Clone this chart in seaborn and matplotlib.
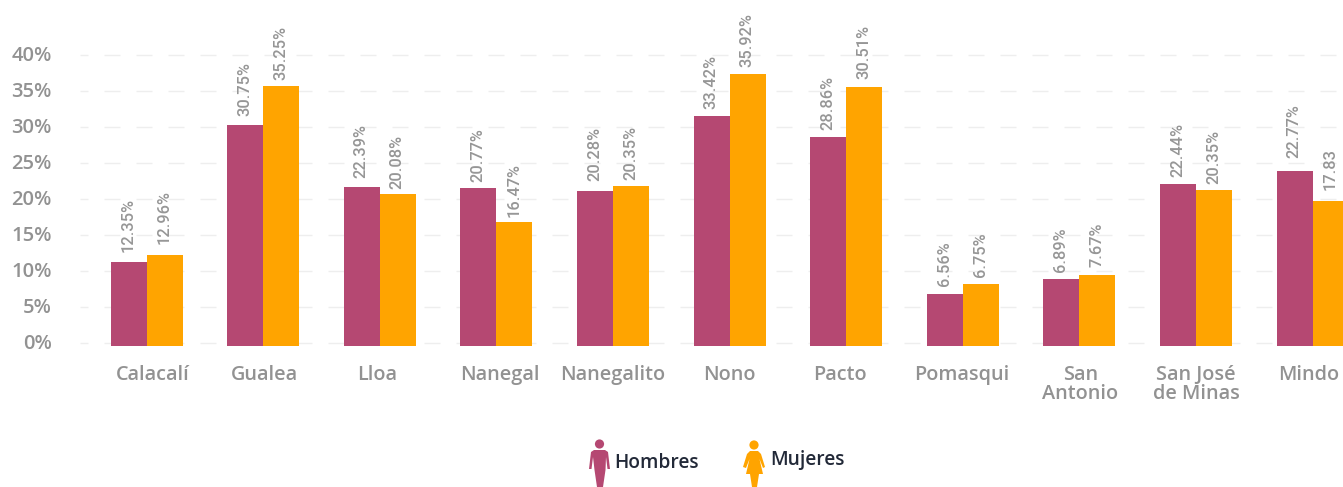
import pandas as pd
import matplotlib
matplotlib.use("Agg")
import matplotlib.pyplot as plt
from matplotlib.patches import Polygon, Circle
from matplotlib.transforms import ScaledTranslation, IdentityTransform
import seaborn as sns

# === DATA ===
parroquias = ["Calacalí", "Gualea", "Lloa", "Nanegal", "Nanegalito", "Nono", "Pacto",
              "Pomasqui", "San\nAntonio", "San José\nde Minas", "Mindo"]
# bar tops (they do not quite agree with the printed labels)
hombres = [11.3, 30.3, 21.7, 21.6, 21.2, 31.6, 28.7, 6.85, 8.9, 22.1, 23.9]
mujeres = [12.25, 35.75, 20.75, 16.85, 21.85, 37.4, 35.6, 8.25, 9.5, 21.3, 19.75]
labels_hombres = ["12.35%", "30.75%", "22.39%", "20.77%", "20.28%", "33.42%",
                  "28.86%", "6.56%", "6.89%", "22.44%", "22.77%"]
labels_mujeres = ["12.96%", "35.25%", "20.08%", "16.47%", "20.35%", "35.92%",
                  "30.51%", "6.75%", "7.67%", "20.35%", "17.83"]
yticks = [0, 5, 10, 15, 20, 25, 30, 35, 40]

# === STYLE ===
W, H = 1343, 487
GREY = "#929292"
LABEL_GREY = "#969696"
MEN = "#B54872"
WOMEN = "#FFA400"
DARK = "#222938"
BASE = -0.37  # bars start slightly under the 0% line in the original
PX = 72 / 100  # pixels to points
# hand placement of the text, in pixels
gap_hombres = [10, 9, 9, 6, 10, 7, 7, 8, 7, 7, 13]
gap_mujeres = [11, 6, 5, 5, 6, 7, 8, 7, 8, 6, 11]
x_shift = [6, 1, -3, 3, 0, 0, -6, -1, 1, 0, -4]

sns.set_theme(style="white")
plt.rcParams["font.family"] = ["Open Sans", "DejaVu Sans"]
plt.rcParams["lines.scale_dashes"] = False

fig = plt.figure(figsize=(W / 100, H / 100), dpi=100)
ax = fig.add_axes([80 / W, (H - 350) / H, (W - 80) / W, 350 / H])

df = pd.DataFrame({
    "parroquia": parroquias * 2,
    "sexo": ["Hombres"] * len(hombres) + ["Mujeres"] * len(mujeres),
    "valor": hombres + mujeres,
})
df["alto"] = df["valor"] - BASE

sns.barplot(data=df, x="parroquia", y="alto", hue="sexo",
            palette={"Hombres": MEN, "Mujeres": WOMEN}, saturation=1,
            width=0.618, gap=0, bottom=BASE, linewidth=0, legend=False, ax=ax, zorder=2)

ax.set_xlim((80 - 146.6) / 116.6, (W - 146.6) / 116.6)
ax.set_ylim((343.3 - 350) / 7.2, 343.3 / 7.2)
ax.set_xlabel("")
ax.set_ylabel("")
sns.despine(ax=ax, left=True, bottom=True, right=True, top=True)

# dashed grid
ax.set_yticks(yticks)
ax.set_yticklabels([f"{t}%" for t in yticks])
ax.set_axisbelow(True)
ax.yaxis.grid(True, color="#eeeeee", linewidth=1.0,
              linestyle=(5.76, (11.52, 11.52)))
ax.xaxis.grid(False)
ax.tick_params(axis="y", length=0, pad=28 * PX, labelsize=14.5, labelcolor=GREY)
ax.tick_params(axis="x", length=0, pad=15 * PX, labelsize=14.3, labelcolor=GREY)
for lab in ax.get_yticklabels():
    lab.set_fontweight("semibold")
    lab.set_transform(lab.get_transform() + ScaledTranslation(0, 2 * PX / 72, fig.dpi_scale_trans))

# category labels sit a bit off centre in the original
for lab, dx in zip(ax.get_xticklabels(), x_shift):
    lab.set_fontweight("semibold")
    lab.set_linespacing(0.95)
    lab.set_transform(lab.get_transform() + ScaledTranslation(dx * PX / 72, 0, fig.dpi_scale_trans))

# rotated value labels
for container, labels, gaps in zip(ax.containers, [labels_hombres, labels_mujeres],
                                   [gap_hombres, gap_mujeres]):
    for bar, text, gap in zip(container, labels, gaps):
        ax.annotate(text, (bar.get_x() + bar.get_width() / 2, bar.get_y() + bar.get_height()),
                    xytext=(-0.5 * PX, gap * PX), textcoords="offset points",
                    rotation=90, ha="center", va="bottom", fontsize=11.8, fontweight="medium",
                    family=["Roboto", "DejaVu Sans"], color=LABEL_GREY,
                    annotation_clip=False, zorder=3)


# === LEGEND ICONS ===
def icon(points, head, color):
    xy = [(x, H - y) for x, y in points]
    fig.add_artist(Polygon(xy, closed=True, facecolor=color, edgecolor="none",
                           transform=IdentityTransform()))
    fig.add_artist(Circle((head[0], H - head[1]), 4.6, facecolor=color, edgecolor="none",
                          transform=IdentityTransform()))


man = [(594, 450), (605, 450), (608, 452), (610, 469), (607.5, 469), (606, 457),
       (605.5, 470), (603, 487), (597, 487), (594.5, 470), (593, 457), (591.5, 469),
       (589, 469), (591, 452)]
woman = [(750, 451), (758, 451), (761, 454), (765, 467), (763, 468), (759.5, 459),
         (763, 474), (759, 474), (757, 487), (752, 487), (750, 474), (746, 474),
         (749.5, 459), (746, 468), (743, 467), (747, 454)]
icon(man, (599.5, 444), MEN)
icon(woman, (754, 445), WOMEN)

fig.text(614 / W, 1 - 463 / H, "Hombres", color=DARK, fontsize=13.8, fontweight="semibold",
         ha="left", va="center")
fig.text(770 / W, 1 - 460 / H, "Mujeres", color=DARK, fontsize=13.8, fontweight="semibold",
         ha="left", va="center")

fig.savefig("out.png", dpi=100, facecolor="white")
